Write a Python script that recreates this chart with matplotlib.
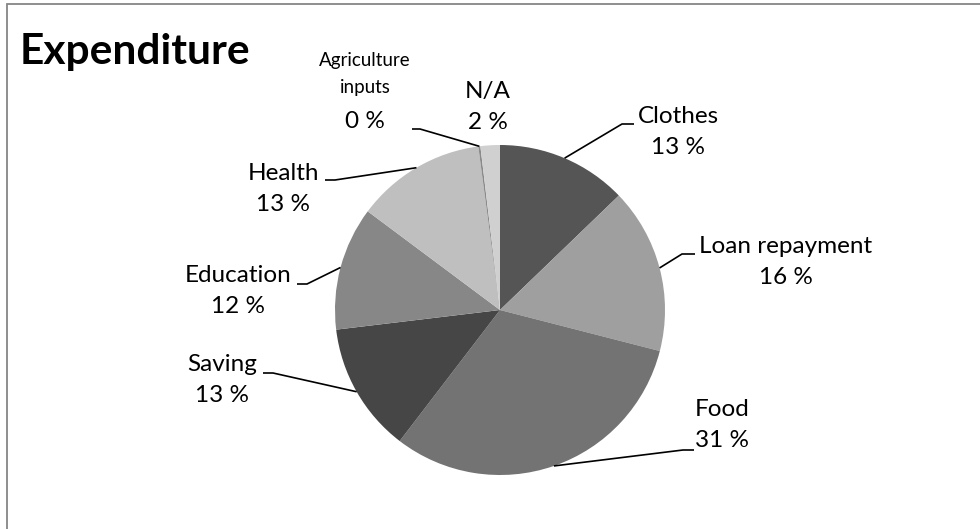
import numpy as np
import matplotlib
matplotlib.use("Agg")
import matplotlib.pyplot as plt
from matplotlib.patches import Rectangle

categories = ["Clothes", "Loan repayment", "Food", "Saving", "Education",
              "Health", "Agriculture\ninputs", "N/A"]
values = [12.8, 16.2, 31.4, 12.7, 12.1, 12.7, 0.2, 1.9]
colors = ["#555555", "#9f9f9f", "#737373", "#464646", "#878787",
          "#bfbfbf", "#8a8a8a", "#d0d0d0"]

W, H = 980, 529
fig = plt.figure(figsize=(W / 100, H / 100), dpi=100)
ax = fig.add_axes([0, 0, 1, 1])

# chart border
fig.patches.append(Rectangle((7 / W, -0.1), 1.2, (H - 4) / H + 0.1,
                             transform=fig.transFigure, fill=False,
                             edgecolor="#868686", linewidth=1.3))

cx, cy, r = 500, 310, 165
# y axis inverted: counterclock=True in data space appears clockwise on screen
wedges, _ = ax.pie(values, colors=colors, startangle=-90, counterclock=True,
                   center=(cx, cy), radius=r, frame=True,
                   wedgeprops=dict(edgecolor="none", linewidth=0))
ax.set_xlim(0, W)
ax.set_ylim(H, 0)
ax.set_aspect("equal")
ax.axis("off")

FONT = "Lato"
fs = 17.5
# label centre positions (layout) and leader elbow points
label_pos = {
    "Clothes": (678, 132, (622, 124), (634, 124)),
    "Loan repayment": (786, 262, (682, 254), (695, 254)),
    "Food": (722, 425, (683, 450), (694, 450)),
    "Saving": (222, 380, (263, 373), (273, 373)),
    "Education": (238, 291, (297, 284), (307, 284)),
    "Health": (283, 189, (325, 180), (335, 180)),
    "Agriculture\ninputs": (365, 91, (412, 129), (420, 129)),
    "N/A": (488, 107, None, None),
}

total = sum(values)
cum = 0.0
for cat, v in zip(categories, values):
    mid = (cum + v / 2) / total * 2 * np.pi
    cum += v
    ex = cx + r * np.sin(mid)
    ey = cy - r * np.cos(mid)
    tx, ty, p1, p2 = label_pos[cat]
    pct = f"{round(v / total * 100):.0f} %"
    if cat.startswith("Agriculture"):
        ax.text(tx, 74, cat, ha="center", va="center", fontsize=13.5,
                family=FONT, linespacing=1.75, color="#000000")
        ax.text(tx, 122, pct, ha="center", va="center", fontsize=fs,
                family=FONT, color="#000000")
    else:
        ax.text(tx, ty, cat + "\n" + pct, ha="center", va="center",
                fontsize=fs, family=FONT, linespacing=1.55, color="#000000")
    if p1 is not None:
        # leader from label elbow to wedge edge
        if p1[0] < cx:
            xs = [p1[0], p2[0], ex]
            ys = [p1[1], p2[1], ey]
        else:
            xs = [ex, p1[0], p2[0]]
            ys = [ey, p1[1], p2[1]]
        ax.plot(xs, ys, color="black", linewidth=1.2, solid_capstyle="butt")

ax.text(20, 52, "Expenditure", ha="left", va="center", fontsize=30.5,
        fontweight="bold", family=FONT, color="#000000")

fig.savefig("out.png", dpi=100)
